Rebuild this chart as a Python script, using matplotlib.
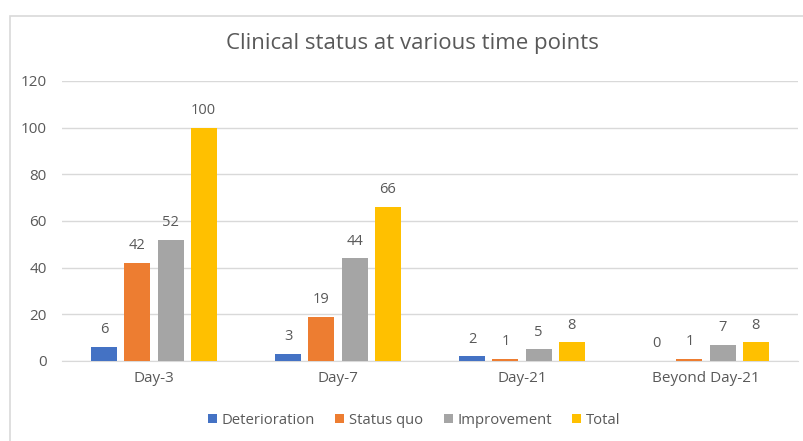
import matplotlib
matplotlib.use("Agg")
import matplotlib.pyplot as plt
from matplotlib.patches import Rectangle
import numpy as np

categories = ["Day-3", "Day-7", "Day-21", "Beyond Day-21"]
series_names = ["Deterioration", "Status quo", "Improvement", "Total"]
deterioration = [6, 3, 2, 0]
status_quo = [42, 19, 1, 1]
improvement = [52, 44, 5, 7]
total = [100, 66, 8, 8]
yticks = [0, 20, 40, 60, 80, 100, 120]

colors = ["#4472C4", "#ED7D31", "#A5A5A5", "#FFC000"]
txt = "#595959"
plt.rcParams['font.family'] = ['Open Sans', 'DejaVu Sans']

fig = plt.figure(figsize=(8.04, 4.41), dpi=100)
fig.patches.append(Rectangle((10/804, -0.1), 1.0, (441-16)/441 + 0.1,
                             transform=fig.transFigure, fill=False,
                             edgecolor="#D9D9D9", linewidth=1.2))
ax = fig.add_axes([62/804, 1-361/441, 736/804, 280/441])

data = [deterioration, status_quo, improvement, total]
x = np.arange(len(categories))
bw = 0.141
step = 0.18
for i, (vals, c, name) in enumerate(zip(data, colors, series_names)):
    pos = x + (i - 1.5) * step
    ax.bar(pos, vals, width=bw, color=c, label=name, zorder=3)
    for p, v in zip(pos, vals):
        ax.annotate(str(v), (p, v), xytext=(0, 7), textcoords="offset points",
                    ha="center", va="bottom", fontsize=10.5, color=txt)

ax.set_xlim(-0.5, len(categories) - 0.5)
ax.set_ylim(0, 120)
ax.set_yticks(yticks)
ax.set_xticks(x)
ax.set_xticklabels(categories)
ax.tick_params(axis="both", length=0, labelsize=11, colors=txt)
ax.tick_params(axis="x", pad=7)
ax.tick_params(axis="y", pad=11)
ax.grid(axis="y", color="#D9D9D9", linewidth=1, zorder=0)
for s in ["top", "right", "left"]:
    ax.spines[s].set_visible(False)
ax.spines["bottom"].set_color("#D9D9D9")
ax.set_facecolor("none")

fig.text(0.513, 1-43/441, "Clinical status at various time points", ha="center",
         va="center", fontsize=16, color=txt)
fig.legend(loc="center", bbox_to_anchor=(0.515, 1-420/441), ncol=4, frameon=False,
           fontsize=10.7, handlelength=0.6, handleheight=0.6, handletextpad=0.3,
           columnspacing=1.4, labelcolor=txt)

fig.savefig("out.png", dpi=100)
